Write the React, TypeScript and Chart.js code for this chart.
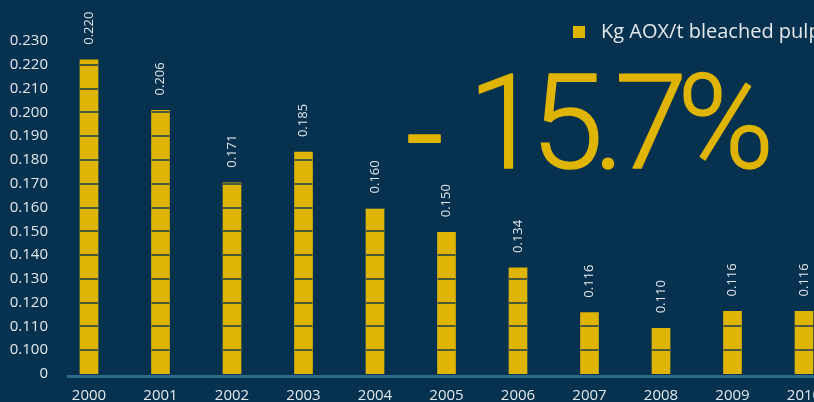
import React, { useEffect, useRef } from "react";
import { Chart, registerables } from "chart.js";

Chart.register(...registerables);

// ---- data ----
const years = [2000, 2001, 2002, 2003, 2004, 2005, 2006, 2007, 2008, 2009, 2010];
const aoxValues = [0.2221, 0.2008, 0.1704, 0.1833, 0.1596, 0.1496, 0.1346, 0.1158, 0.1092, 0.1163, 0.1163];
const valueLabels = ["0.220", "0.206", "0.171", "0.185", "0.160", "0.150", "0.134", "0.116", "0.110", "0.116", "0.116"];
const yTickValues = [0, 0.1, 0.11, 0.12, 0.13, 0.14, 0.15, 0.16, 0.17, 0.18, 0.19, 0.2, 0.21, 0.22, 0.23];
const seriesLabel = "Kg AOX/t bleached pulp";
const changeSign = "-";
const changeValue = "15.7%";
const AXIS_BREAK = 0.09; // broken axis: 0 then 0.100 ...

// ---- style ----
const BG = "#07324f";
const YELLOW = "#dfb403";
const TEXT = "#e2e8ec";
const AXIS = "#2e6b8a";
const GRID_ON_BAR = "#4b5a38";
const FONT = "'Open Sans', 'Noto Sans', sans-serif";

const toPlot = (v: number) => (v === 0 ? 0 : v - AXIS_BREAK);
const fmt = (v: number) => (v === 0 ? "0" : v.toFixed(3));

// gridlines are only visible where they cross the bars
const barGridPlugin = {
  id: "barGrid",
  afterDatasetsDraw(chart: any) {
    const ctx = chart.ctx;
    const yScale = chart.scales.y;
    const meta = chart.getDatasetMeta(0);
    ctx.save();
    ctx.fillStyle = GRID_ON_BAR;
    meta.data.forEach((bar: any) => {
      const half = bar.width / 2;
      const top = Math.min(bar.y, bar.base);
      const bottom = Math.max(bar.y, bar.base);
      yTickValues.forEach((v) => {
        if (v === 0) return;
        const py = yScale.getPixelForValue(toPlot(v));
        const y0 = Math.max(Math.round(py) - 1, Math.round(top));
        const y1 = Math.min(Math.round(py) + 1, Math.round(bottom));
        if (y1 > y0) ctx.fillRect(bar.x - half, y0, bar.width, y1 - y0);
      });
    });
    ctx.restore();
  },
};

const valueLabelPlugin = {
  id: "valueLabels",
  afterDatasetsDraw(chart: any) {
    const ctx = chart.ctx;
    const meta = chart.getDatasetMeta(0);
    ctx.save();
    ctx.fillStyle = TEXT;
    ctx.font = `13px ${FONT}`;
    ctx.textAlign = "left";
    ctx.textBaseline = "middle";
    meta.data.forEach((bar: any, i: number) => {
      ctx.save();
      ctx.translate(bar.x, bar.y - 15);
      ctx.rotate(-Math.PI / 2);
      ctx.fillText(valueLabels[i], 0, 0);
      ctx.restore();
    });
    ctx.restore();
  },
};

const decorPlugin = {
  id: "decor",
  afterDraw(chart: any) {
    const ctx = chart.ctx;
    const area = chart.chartArea;
    ctx.save();
    // x axis line
    ctx.fillStyle = AXIS;
    ctx.fillRect(area.left, area.bottom + 1, chart.width - area.left, 3);
    // legend
    ctx.fillStyle = YELLOW;
    ctx.fillRect(573, 26, 12, 12);
    ctx.fillStyle = TEXT;
    ctx.font = `20px ${FONT}`;
    ctx.textAlign = "left";
    ctx.textBaseline = "middle";
    ctx.fillText(chart.data.datasets[0].label, 601, 32);
    // big change figure
    ctx.fillStyle = YELLOW;
    ctx.strokeStyle = YELLOW;
    ctx.lineWidth = 2;
    ctx.lineJoin = "round";
    ctx.textBaseline = "alphabetic";
    ctx.font = "300 131px Roboto, sans-serif";
    (ctx as any).letterSpacing = "0px";
    ctx.fillText(changeSign, 406, 180);
    ctx.strokeText(changeSign, 406, 180);
    (ctx as any).letterSpacing = "-10px";
    ctx.fillText(changeValue, 468, 168);
    ctx.lineWidth = 1.5;
    ctx.strokeText(changeValue, 468, 168);
    ctx.restore();
  },
};

export default function App() {
  const ref = useRef<HTMLCanvasElement>(null);
  useEffect(() => {
    document.body.style.margin = "0";
    document.body.style.overflow = "hidden";
    document.body.style.background = BG;
    const chart = new Chart(ref.current as HTMLCanvasElement, {
      type: "bar",
      data: {
        datasets: [
          {
            label: seriesLabel,
            data: years.map((y, i) => ({ x: y, y: toPlot(aoxValues[i]) })),
            backgroundColor: YELLOW,
            borderWidth: 0,
            barThickness: 18,
          } as any,
        ],
      },
      options: {
        animation: false,
        responsive: false,
        maintainAspectRatio: false,
        layout: { padding: { left: 8, top: 41, right: 20, bottom: 0 } },
        plugins: { legend: { display: false }, tooltip: { enabled: false } },
        scales: {
          x: {
            type: "linear",
            offset: false,
            min: 1999.6923,
            max: 2010.5035,
            grid: { display: false, drawTicks: false },
            border: { display: false },
            afterBuildTicks: (s: any) => {
              s.ticks = years.map((v) => ({ value: v }));
            },
            afterFit: (s: any) => {
              s.height = 26;
            },
            ticks: {
              color: TEXT,
              font: { family: FONT, size: 15 },
              padding: 13,
              maxRotation: 0,
              autoSkip: false,
              callback: (v: any) => String(v),
            },
          },
          y: {
            type: "linear",
            min: 0,
            max: toPlot(0.23),
            afterBuildTicks: (s: any) => {
              s.ticks = yTickValues.map((v) => ({ value: toPlot(v) }));
            },
            afterFit: (s: any) => {
              s.width = 59;
            },
            grid: { display: false, drawTicks: false },
            border: { display: false },
            ticks: {
              color: TEXT,
              font: { family: FONT, size: 15 },
              padding: 19,
              autoSkip: false,
              callback: (_v: any, i: number) => fmt(yTickValues[i]),
            },
          },
        },
      } as any,
      plugins: [barGridPlugin, valueLabelPlugin, decorPlugin],
    });
    return () => chart.destroy();
  }, []);
  return (
    <div style={{ position: "fixed", left: 0, top: 0, width: 814, height: 402, overflow: "hidden", background: BG }}>
      <canvas ref={ref} width={860} height={402} style={{ display: "block", width: 860, height: 402 }} />
    </div>
  );
}
